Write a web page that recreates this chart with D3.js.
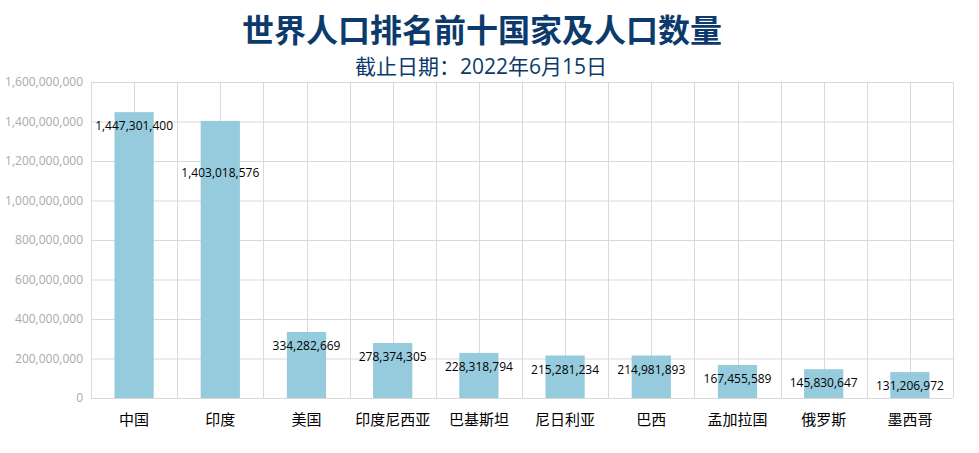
<!DOCTYPE html>
<html>
<head>
<meta charset="utf-8">
<script src="https://cdn.jsdelivr.net/npm/d3@7"></script>
<style>
  body { margin: 0; background: #fff; }
  svg text { font-family: "Open Sans", "Noto Sans CJK SC", sans-serif; }
</style>
</head>
<body>
<div id="chart"></div>
<script>
// data
var countries = ["中国", "印度", "美国", "印度尼西亚", "巴基斯坦", "尼日利亚", "巴西", "孟加拉国", "俄罗斯", "墨西哥"];
var population = [1447301400, 1403018576, 334282669, 278374305, 228318794, 215281234, 214981893, 167455589, 145830647, 131206972];
var yTicks = [0, 200000000, 400000000, 600000000, 800000000, 1000000000, 1200000000, 1400000000, 1600000000];

var titleText = "世界人口排名前十国家及人口数量";
var subtitleText = "截止日期：2022年6月15日";

var svgWidth = 979;
var svgHeight = 453;

var margin = { top: 82, right: 26, bottom: 55, left: 91 };
var width = svgWidth - margin.left - margin.right;
var height = svgHeight - margin.top - margin.bottom;

var svg = d3.select("#chart")
  .append("svg")
  .attr("width", svgWidth)
  .attr("height", svgHeight);

// title
svg.append("text")
  .attr("x", 482)
  .attr("y", 42)
  .attr("text-anchor", "middle")
  .style("font-size", "32px")
  .style("font-weight", "bold")
  .style("fill", "#0d3a6c")
  .text(titleText);

svg.append("text")
  .attr("x", 481)
  .attr("y", 74)
  .attr("text-anchor", "middle")
  .style("font-size", "21px")
  .style("fill", "#0d3a6c")
  .text(subtitleText);

var chartGroup = svg.append("g")
  .attr("transform", `translate(${margin.left}, ${margin.top})`);

var xScale = d3.scaleBand()
  .domain(countries)
  .range([0, width]);

var yScale = d3.scaleLinear()
  .domain([0, 1600000000])
  .range([height, 0]);

// horizontal grid
chartGroup.append("g")
  .selectAll("line")
  .data(yTicks)
  .enter()
  .append("line")
  .attr("x1", 0)
  .attr("x2", width)
  .attr("y1", d => yScale(d) + 0.5)
  .attr("y2", d => yScale(d) + 0.5)
  .attr("stroke", "#d9d9d9");

// vertical grid: band edges and centers
var vx = [];
countries.forEach(function(c) {
  vx.push(xScale(c));
  vx.push(xScale(c) + xScale.bandwidth() / 2);
});
vx.push(width);

chartGroup.append("g")
  .selectAll("line")
  .data(vx)
  .enter()
  .append("line")
  .attr("x1", d => Math.round(d) + 0.5)
  .attr("x2", d => Math.round(d) + 0.5)
  .attr("y1", 0)
  .attr("y2", height)
  .attr("stroke", "#d9d9d9");

// bars
var barW = xScale.bandwidth() * 0.455;
chartGroup.selectAll("rect")
  .data(countries)
  .enter()
  .append("rect")
  .attr("x", d => xScale(d) + xScale.bandwidth() / 2 - barW / 2)
  .attr("y", (d, i) => yScale(population[i]))
  .attr("width", barW)
  .attr("height", (d, i) => height - yScale(population[i]))
  .attr("fill", "#95cbdc");

// value labels
var labelNudge = { "印度": 38 };
chartGroup.selectAll(".value")
  .data(countries)
  .enter()
  .append("text")
  .attr("class", "value")
  .attr("x", d => xScale(d) + xScale.bandwidth() / 2)
  .attr("y", (d, i) => yScale(population[i]) + 14 + (labelNudge[d] || 0))
  .attr("dy", "0.35em")
  .attr("text-anchor", "middle")
  .style("font-size", "12px")
  .style("fill", "#000")
  .text((d, i) => d3.format(",")(population[i]));

// y axis
var leftAxis = d3.axisLeft(yScale)
  .tickValues(yTicks)
  .tickFormat(d3.format(","))
  .tickSize(0)
  .tickPadding(8);

var yAxis = chartGroup.append("g").call(leftAxis);
yAxis.select(".domain").remove();
yAxis.selectAll("text")
  .style("font-size", "12px")
  .style("fill", "#aaaaaa");

// x axis
var bottomAxis = d3.axisBottom(xScale)
  .tickSize(0)
  .tickPadding(16);

var xAxis = chartGroup.append("g")
  .attr("transform", `translate(0, ${height})`)
  .call(bottomAxis);
xAxis.select(".domain").remove();
xAxis.selectAll("text")
  .style("font-size", "15px")
  .style("fill", "#000");
</script>
</body>
</html>
